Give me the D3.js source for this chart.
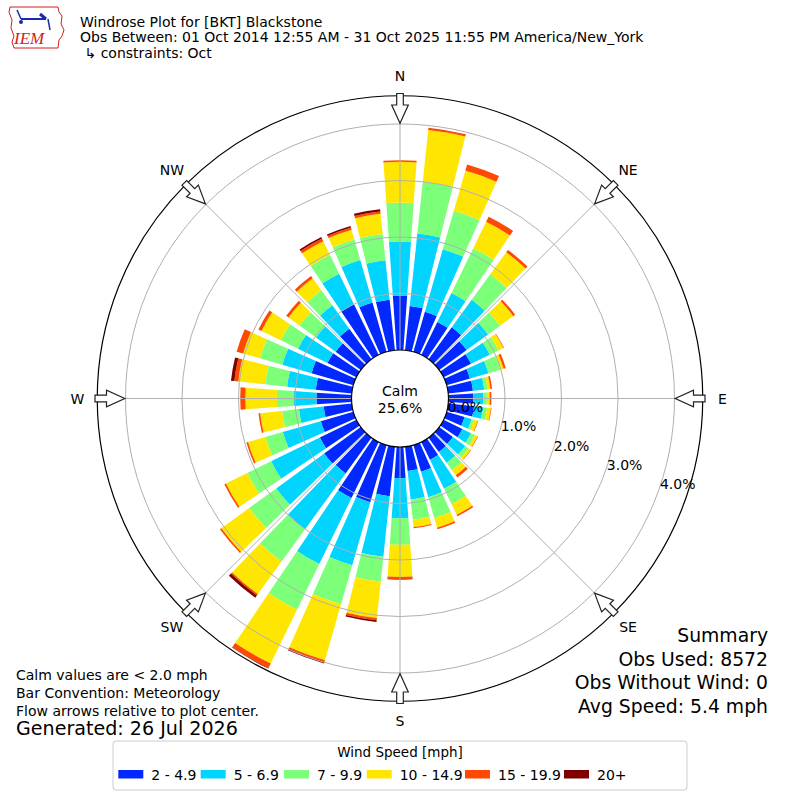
<!DOCTYPE html>
<html>
<head>
<meta charset="utf-8">
<script src="https://cdn.jsdelivr.net/npm/d3@7"></script>
<style>
  body { margin: 0; background: #fff; }
  svg text { font-family: "DejaVu Sans", sans-serif; fill: #000; }
</style>
</head>
<body>
<div id="vis"></div>
<script>
// wind directions (degrees, meteorological) and the percent per speed bin
const directions = [0, 10, 20, 30, 40, 50, 60, 70, 80, 90, 100, 110, 120, 130, 140, 150, 160, 170,
  180, 190, 200, 210, 220, 230, 240, 250, 260, 270, 280, 290, 300, 310, 320, 330, 340, 350];

const speed2to5 = [0.96, 0.79, 0.74, 0.65, 0.70, 0.60, 0.54, 0.43, 0.44, 0.44, 0.46, 0.33, 0.37, 0.30, 0.31, 0.35, 0.49, 0.43,
  0.55, 0.88, 1.05, 1.10, 0.78, 0.80, 0.72, 0.60, 0.50, 0.62, 0.64, 0.77, 0.57, 0.55, 0.67, 1.00, 0.91, 0.90];
const speed5to7 = [0.96, 1.29, 1.15, 0.57, 0.60, 0.47, 0.37, 0.34, 0.20, 0.18, 0.16, 0.13, 0.17, 0.27, 0.24, 0.57, 0.47, 0.51,
  0.71, 1.08, 1.16, 1.30, 1.22, 1.05, 0.96, 0.70, 0.44, 0.41, 0.51, 0.54, 0.58, 0.43, 0.51, 0.60, 0.78, 0.70];
const speed7to10 = [0.69, 0.92, 0.71, 0.88, 0.56, 0.26, 0.17, 0.22, 0.06, 0.06, 0.07, 0.04, 0.08, 0.07, 0.16, 0.30, 0.38, 0.36,
  0.47, 0.44, 0.72, 0.90, 0.71, 0.59, 0.47, 0.32, 0.30, 0.29, 0.39, 0.41, 0.34, 0.36, 0.33, 0.37, 0.38, 0.47];
const speed10to15 = [0.72, 0.92, 0.74, 0.52, 0.48, 0.29, 0.10, 0.06, 0.05, 0.05, 0.07, 0.07, 0.05, 0.05, 0.11, 0.21, 0.18, 0.13,
  0.57, 0.65, 1.03, 1.06, 0.71, 0.61, 0.42, 0.32, 0.39, 0.56, 0.48, 0.31, 0.38, 0.24, 0.26, 0.27, 0.18, 0.36];
const speed15to20 = [0.03, 0.04, 0.11, 0.10, 0.05, 0.04, 0.01, 0.04, 0.03, 0.03, 0.01, 0.01, 0.01, 0.01, 0.05, 0.03, 0.03, 0.02,
  0.04, 0.04, 0.04, 0.09, 0.03, 0.03, 0.03, 0.03, 0.03, 0.09, 0.07, 0.12, 0.06, 0.05, 0.05, 0.05, 0.04, 0.04];
const speed20plus = [0, 0, 0, 0, 0, 0, 0, 0, 0, 0, 0, 0, 0, 0, 0, 0, 0, 0,
  0.01, 0.03, 0.02, 0.01, 0.05, 0, 0, 0, 0, 0, 0.06, 0, 0, 0, 0, 0.03, 0.03, 0.04];

const binLabels = ['2 - 4.9', '5 - 6.9', '7 - 9.9', '10 - 14.9', '15 - 19.9', '20+'];
const binColors = ['#0028ff', '#00d4ff', '#7cff79', '#ffe600', '#ff4800', '#7f0000'];

const ringTicks = [0, 1, 2, 3, 4];
const compassNames = ['N', 'NE', 'E', 'SE', 'S', 'SW', 'W', 'NW'];
const compassAngles = [0, 45, 90, 135, 180, 225, 270, 315];

const titleLines = [
  'Windrose Plot for [BKT] Blackstone',
  'Obs Between: 01 Oct 2014 12:55 AM - 31 Oct 2025 11:55 PM America/New_York',
  ' \u21b3 constraints: Oct',
];
const noteLines = ['Calm values are < 2.0 mph', 'Bar Convention: Meteorology', 'Flow arrows relative to plot center.'];
const summaryLines = ['Summary', 'Obs Used: 8572', 'Obs Without Wind: 0', 'Avg Speed: 5.4 mph'];
const calmPercent = '25.6%';

// layout
const width = 800;
const height = 800;
const cx = 400;
const cy = 398.5;
const rad = Math.PI / 180;

const svg = d3.select('#vis')
  .append('svg')
  .attr('width', width)
  .attr('height', height);

const r = d3.scaleLinear().domain([0, 4.5]).range([48.5, 302.75]);

// stack the speed bins per direction
const keys = ['b0', 'b1', 'b2', 'b3', 'b4', 'b5'];
const series = [speed2to5, speed5to7, speed7to10, speed10to15, speed15to20, speed20plus];
const table = directions.map((d, i) => {
  const row = {dir: d};
  keys.forEach((k, j) => row[k] = series[j][i]);
  return row;
});
const stacked = d3.stack().keys(keys)(table);

const rose = svg.append('g').attr('transform', 'translate(' + cx + ',' + cy + ')');

const arc = d3.arc()
  .innerRadius((d) => r(d[0]))
  .outerRadius((d) => r(d[1]))
  .startAngle((d) => (d.data.dir - 4) * rad)
  .endAngle((d) => (d.data.dir + 4) * rad);

stacked.forEach((layer, j) => {
  rose.append('g')
    .selectAll('path')
    .data(layer.filter((d) => d[1] > d[0]))
    .enter()
    .append('path')
    .attr('d', arc)
    .attr('fill', binColors[j]);
});

// grid on top of the bars
rose.append('g')
  .selectAll('circle')
  .data(ringTicks.slice(1))
  .enter()
  .append('circle')
  .attr('r', (d) => r(d))
  .attr('fill', 'none')
  .attr('stroke', '#b0b0b0')
  .attr('stroke-width', 1);

rose.append('g')
  .selectAll('line')
  .data(compassAngles)
  .enter()
  .append('line')
  .attr('x1', (a) => r(0) * Math.sin(a * rad))
  .attr('y1', (a) => -r(0) * Math.cos(a * rad))
  .attr('x2', (a) => r(4.5) * Math.sin(a * rad))
  .attr('y2', (a) => -r(4.5) * Math.cos(a * rad))
  .attr('stroke', '#b0b0b0')
  .attr('stroke-width', 1);

rose.append('circle')
  .attr('r', r(4.5))
  .attr('fill', 'none')
  .attr('stroke', '#000')
  .attr('stroke-width', 1.2);

// calm circle
rose.append('circle')
  .attr('r', r(0))
  .attr('fill', '#fff')
  .attr('stroke', '#000')
  .attr('stroke-width', 1.2);

rose.append('text')
  .attr('text-anchor', 'middle')
  .attr('y', -3)
  .style('font-size', '14px')
  .text('Calm');
rose.append('text')
  .attr('text-anchor', 'middle')
  .attr('y', 14)
  .style('font-size', '14px')
  .text(calmPercent);

// radial percent labels
const labelAngle = 110 * rad;
rose.append('g')
  .selectAll('text')
  .data(ringTicks)
  .enter()
  .append('text')
  .attr('x', (d) => r(d) * Math.sin(labelAngle) + 2)
  .attr('y', (d) => -r(d) * Math.cos(labelAngle) - 3)
  .style('font-size', '14px')
  .text((d) => d.toFixed(1) + '%');

// flow arrows pointing to center
const arrowShape = [
  [-3.3, -305], [3.3, -305], [3.3, -293.5], [8.3, -293.5], [0, -275.2],
  [-8.3, -293.5], [-3.3, -293.5],
];
rose.append('g')
  .selectAll('path')
  .data(compassAngles)
  .enter()
  .append('path')
  .attr('d', 'M' + arrowShape.map((p) => p.join(',')).join('L') + 'Z')
  .attr('transform', (a) => 'rotate(' + a + ')')
  .attr('fill', '#fff')
  .attr('stroke', '#222')
  .attr('stroke-width', 1.2);

rose.append('g')
  .selectAll('text')
  .data(compassNames)
  .enter()
  .append('text')
  .attr('x', (d, i) => 322.5 * Math.sin(compassAngles[i] * rad))
  .attr('y', (d, i) => -322.5 * Math.cos(compassAngles[i] * rad) + 5)
  .attr('text-anchor', 'middle')
  .style('font-size', '14px')
  .text((d) => d);

// title
svg.append('g')
  .selectAll('text')
  .data(titleLines)
  .enter()
  .append('text')
  .attr('x', 80)
  .attr('y', (d, i) => 26.5 + i * 15.8)
  .style('font-size', '14px')
  .style('white-space', 'pre')
  .text((d) => d);

// logo
const logo = svg.append('g');
logo.append('path')
  .attr('d', 'M10,7 L58,7 L59,12 L62,16 L61,24 L64,30 L62,36 L59,40 L58,48 L14,48 L12,42 L14,36 L11,28 L12,20 L9,12 Z')
  .attr('fill', '#fff')
  .attr('stroke', '#d02020')
  .attr('stroke-width', 1);
logo.append('line').attr('x1', 21).attr('y1', 19).attr('x2', 46).attr('y2', 19)
  .attr('stroke', '#1a2ab0').attr('stroke-width', 2);
logo.append('line').attr('x1', 21).attr('y1', 19).attr('x2', 17).attr('y2', 10)
  .attr('stroke', '#1a2ab0').attr('stroke-width', 1.5);
logo.append('line').attr('x1', 40).attr('y1', 14).attr('x2', 46).attr('y2', 19)
  .attr('stroke', '#1a2ab0').attr('stroke-width', 3);
logo.append('line').attr('x1', 48).attr('y1', 19).attr('x2', 50).attr('y2', 30)
  .attr('stroke', '#1a2ab0').attr('stroke-width', 1.5);
logo.append('circle').attr('cx', 21).attr('cy', 22).attr('r', 2).attr('fill', '#1a2ab0');
logo.append('text')
  .attr('x', 14)
  .attr('y', 44)
  .style('font-family', '"Liberation Serif", serif')
  .style('font-style', 'italic')
  .style('font-size', '17px')
  .style('fill', '#d02020')
  .text('IEM');

// notes bottom left
svg.append('g')
  .selectAll('text')
  .data(noteLines)
  .enter()
  .append('text')
  .attr('x', 16)
  .attr('y', (d, i) => 680 + i * 17.8)
  .style('font-size', '14px')
  .text((d) => d);
svg.append('text')
  .attr('x', 16)
  .attr('y', 735)
  .style('font-size', '19.1px')
  .text('Generated: 26 Jul 2026');

// summary bottom right
svg.append('g')
  .selectAll('text')
  .data(summaryLines)
  .enter()
  .append('text')
  .attr('x', 768)
  .attr('y', (d, i) => 642 + i * 23.5)
  .attr('text-anchor', 'end')
  .style('font-size', '18.8px')
  .text((d) => d);

// legend
const legend = svg.append('g');
legend.append('rect')
  .attr('x', 113).attr('y', 741).attr('width', 574).attr('height', 49)
  .attr('rx', 3)
  .attr('fill', '#fff')
  .attr('stroke', '#cccccc');
legend.append('text')
  .attr('x', 400).attr('y', 757)
  .attr('text-anchor', 'middle')
  .style('font-size', '13.5px')
  .text('Wind Speed [mph]');
const patchX = [118.3, 200.7, 284, 366.7, 465, 564];
const item = legend.selectAll('g.item')
  .data(binLabels)
  .enter()
  .append('g')
  .attr('class', 'item')
  .attr('transform', (d, i) => 'translate(' + patchX[i] + ',770)');
item.append('rect')
  .attr('width', 25).attr('height', 8.5)
  .attr('fill', (d, i) => binColors[i]);
item.append('text')
  .attr('x', 33).attr('y', 9.5)
  .style('font-size', '14px')
  .text((d) => d);
</script>
</body>
</html>
